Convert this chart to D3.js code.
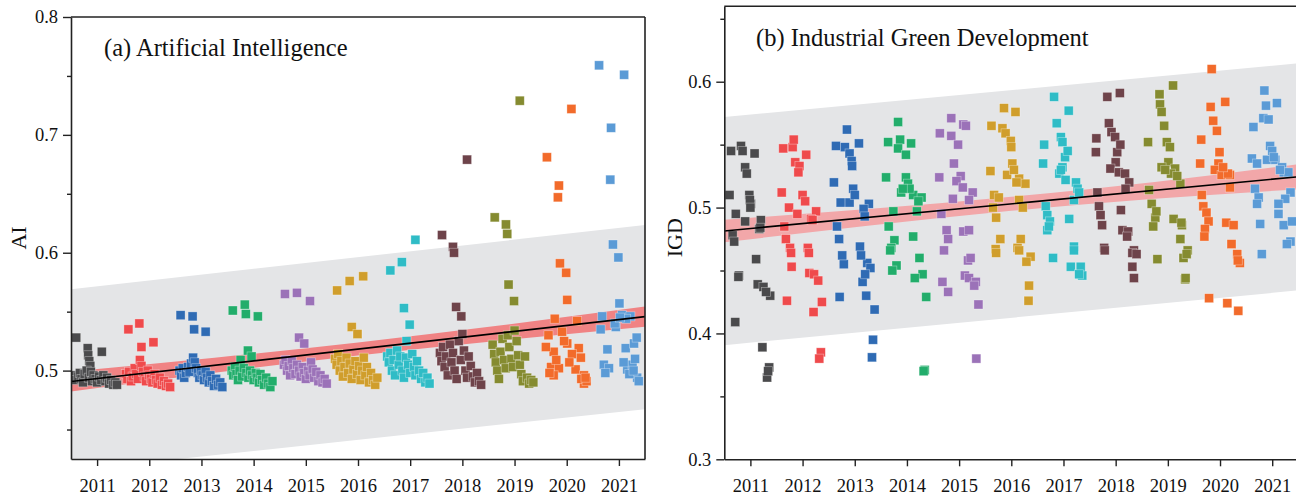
<!DOCTYPE html>
<html>
<head>
<meta charset="utf-8">
<script src="https://cdn.jsdelivr.net/npm/d3@7/dist/d3.min.js"></script>
<style>
  html, body { margin: 0; padding: 0; background: #fff; }
  svg { display: block; }
  text { font-family: "Liberation Serif", "Times New Roman", serif; fill: #111; }
</style>
</head>
<body>
<svg id="chart" width="1296" height="499"></svg>
<script>
// Years and per-year marker colours
const years = [2011, 2012, 2013, 2014, 2015, 2016, 2017, 2018, 2019, 2020, 2021];
const yearColors = ["#4a4a4c", "#ef4a4c", "#2f6bb4", "#22ad6b", "#9b72b8", "#d09e2c",
                    "#2fbcc6", "#6e434a", "#858b30", "#f26b2b", "#5b9bd6"];

// (a) AI index by province: [offset from year, value]
const ai2011 = [[-0.40,0.528],[-0.18,0.519],[-0.17,0.513],[-0.15,0.508],[-0.13,0.504],[0.09,0.516],
  [-0.43,0.496],[-0.40,0.492],[-0.36,0.495],[-0.33,0.498],[-0.30,0.493],[-0.27,0.490],[-0.24,0.497],[-0.20,0.500],
  [-0.16,0.494],[-0.12,0.499],[-0.10,0.491],[-0.07,0.496],[-0.03,0.493],[0.00,0.490],[0.04,0.495],[0.08,0.492],
  [0.12,0.496],[0.16,0.491],[0.19,0.494],[0.23,0.489],[0.27,0.492],[0.31,0.488],[0.35,0.490],[0.38,0.488]];
const ai2012 = [[-0.40,0.535],[-0.19,0.540],[-0.15,0.520],[0.08,0.524],
  [-0.45,0.497],[-0.42,0.493],[-0.39,0.499],[-0.35,0.491],[-0.32,0.495],[-0.28,0.502],[-0.25,0.497],[-0.22,0.493],
  [-0.18,0.509],[-0.15,0.504],[-0.12,0.499],[-0.09,0.495],[-0.06,0.491],[-0.03,0.500],[0.00,0.496],[0.03,0.493],
  [0.06,0.490],[0.10,0.497],[0.13,0.492],[0.16,0.489],[0.20,0.494],[0.24,0.488],[0.28,0.491],[0.32,0.487],[0.36,0.489],[0.40,0.486]];
const ai2013 = [[-0.40,0.547],[-0.17,0.546],[-0.14,0.535],[0.08,0.533],
  [-0.42,0.500],[-0.39,0.496],[-0.36,0.502],[-0.33,0.494],[-0.30,0.498],[-0.26,0.503],[-0.23,0.499],[-0.20,0.506],
  [-0.16,0.511],[-0.13,0.507],[-0.10,0.502],[-0.07,0.498],[-0.04,0.494],[-0.01,0.500],[0.02,0.496],[0.05,0.492],
  [0.08,0.499],[0.11,0.494],[0.14,0.490],[0.17,0.496],[0.20,0.491],[0.24,0.487],[0.28,0.493],[0.32,0.488],[0.36,0.490],[0.40,0.486]];
const ai2014 = [[-0.40,0.551],[-0.17,0.556],[-0.15,0.548],[0.08,0.546],[-0.11,0.517],[-0.04,0.512],[-0.25,0.509],
  [-0.42,0.500],[-0.39,0.496],[-0.36,0.503],[-0.33,0.497],[-0.30,0.492],[-0.27,0.500],[-0.22,0.495],[-0.19,0.502],
  [-0.14,0.498],[-0.10,0.494],[-0.07,0.500],[-0.03,0.496],[0.00,0.492],[0.04,0.498],[0.07,0.494],[0.10,0.490],
  [0.13,0.497],[0.16,0.492],[0.20,0.488],[0.24,0.494],[0.28,0.489],[0.32,0.486],[0.36,0.491]];
const ai2015 = [[-0.40,0.565],[-0.17,0.566],[0.08,0.559],[-0.13,0.528],[-0.03,0.523],
  [-0.42,0.505],[-0.39,0.509],[-0.36,0.500],[-0.33,0.504],[-0.30,0.496],[-0.27,0.508],[-0.24,0.502],[-0.20,0.497],
  [-0.17,0.505],[-0.13,0.500],[-0.10,0.495],[-0.06,0.503],[-0.03,0.498],[0.00,0.493],[0.04,0.500],[0.07,0.496],
  [0.10,0.507],[0.13,0.501],[0.16,0.494],[0.20,0.499],[0.24,0.491],[0.28,0.496],[0.32,0.490],[0.36,0.493],[0.40,0.489]];
const ai2016 = [[-0.40,0.568],[-0.16,0.576],[0.10,0.580],[-0.12,0.537],[-0.01,0.531],
  [-0.44,0.510],[-0.41,0.505],[-0.38,0.514],[-0.35,0.500],[-0.32,0.508],[-0.29,0.495],[-0.26,0.503],[-0.22,0.511],
  [-0.19,0.498],[-0.16,0.506],[-0.12,0.493],[-0.09,0.501],[-0.05,0.508],[-0.02,0.497],[0.02,0.504],[0.05,0.492],
  [0.08,0.500],[0.11,0.511],[0.14,0.496],[0.17,0.503],[0.21,0.490],[0.25,0.498],[0.29,0.492],[0.33,0.488],[0.37,0.494]];
const ai2017 = [[-0.38,0.585],[-0.16,0.592],[0.10,0.611],[-0.12,0.553],[-0.01,0.539],[-0.07,0.525],
  [-0.44,0.512],[-0.41,0.507],[-0.38,0.515],[-0.35,0.500],[-0.32,0.509],[-0.29,0.496],[-0.25,0.517],[-0.22,0.505],
  [-0.19,0.512],[-0.15,0.500],[-0.12,0.494],[-0.08,0.511],[-0.04,0.505],[0.00,0.498],[0.04,0.514],[0.07,0.503],
  [0.10,0.496],[0.13,0.508],[0.17,0.500],[0.21,0.493],[0.25,0.498],[0.29,0.490],[0.33,0.494],[0.37,0.489]];
const ai2018 = [[-0.39,0.615],[-0.18,0.605],[-0.16,0.600],[0.09,0.679],[-0.12,0.554],[-0.02,0.546],
  [-0.43,0.515],[-0.40,0.508],[-0.37,0.520],[-0.34,0.503],[-0.31,0.512],[-0.28,0.496],[-0.24,0.522],[-0.21,0.507],
  [-0.18,0.515],[-0.15,0.500],[-0.11,0.493],[-0.07,0.525],[-0.03,0.509],[0.00,0.531],[0.03,0.517],[0.06,0.500],
  [0.09,0.494],[0.12,0.512],[0.16,0.504],[0.20,0.495],[0.24,0.490],[0.28,0.498],[0.32,0.491],[0.36,0.488]];
const ai2019 = [[-0.38,0.630],[-0.165,0.624],[-0.14,0.616],[0.10,0.729],[-0.115,0.573],[-0.01,0.559],
  [-0.42,0.522],[-0.39,0.514],[-0.36,0.507],[-0.33,0.500],[-0.30,0.493],[-0.27,0.516],[-0.23,0.527],[-0.20,0.509],
  [-0.17,0.502],[-0.13,0.530],[-0.10,0.520],[-0.06,0.510],[-0.03,0.503],[0.00,0.534],[0.04,0.525],[0.07,0.513],
  [0.10,0.505],[0.13,0.497],[0.16,0.491],[0.20,0.512],[0.24,0.494],[0.28,0.489],[0.32,0.492],[0.36,0.490]];
const ai2020 = [[-0.38,0.681],[-0.17,0.647],[-0.15,0.657],[0.09,0.722],[-0.13,0.591],[-0.01,0.583],[0.01,0.560],
  [-0.23,0.544],[0.20,0.542],[-0.35,0.530],[-0.09,0.533],[0.01,0.523],[0.23,0.519],[-0.25,0.516],[-0.30,0.503],
  [-0.15,0.502],[0.17,0.501],[0.33,0.496],[0.33,0.489],[-0.25,0.496],[-0.40,0.520],[-0.05,0.525],[0.10,0.514],
  [0.27,0.511],[-0.20,0.509],[0.05,0.507],[0.28,0.493],[0.38,0.491],[-0.33,0.498],[0.36,0.494]];
const ai2021 = [[-0.38,0.759],[0.10,0.751],[-0.15,0.706],[-0.165,0.662],[-0.115,0.607],[-0.01,0.596],[0.01,0.557],
  [-0.32,0.546],[-0.35,0.535],[-0.06,0.537],[0.06,0.547],[0.22,0.546],[0.14,0.544],[-0.22,0.518],[0.13,0.519],
  [0.29,0.523],[0.34,0.528],[-0.29,0.505],[-0.19,0.502],[0.16,0.501],[0.26,0.505],[0.35,0.494],[0.38,0.491],
  [-0.26,0.498],[0.09,0.507],[0.20,0.497],[0.31,0.510],[-0.08,0.540],[0.02,0.545],[0.28,0.500]];
const aiByYear = [ai2011, ai2012, ai2013, ai2014, ai2015, ai2016, ai2017, ai2018, ai2019, ai2020, ai2021];

// (b) IGD index by province: [offset from year, value]
const igd2011 = [[-0.37,0.545],[-0.18,0.549],[-0.15,0.545],[0.08,0.543],[-0.10,0.532],[-0.07,0.527],[-0.40,0.510],
  [-0.02,0.510],[0.01,0.503],[-0.01,0.506],[-0.28,0.495],[-0.10,0.489],[0.20,0.490],[0.17,0.483],[-0.34,0.478],
  [-0.31,0.473],[0.11,0.459],[-0.22,0.446],[-0.23,0.445],[0.14,0.439],[0.25,0.437],[0.38,0.430],[0.30,0.433],
  [-0.29,0.409],[0.23,0.389],[0.36,0.373],[0.32,0.365],[0.34,0.370],[0.19,0.484],[0.00,0.500]];
const igd2012 = [[-0.37,0.547],[-0.19,0.548],[-0.17,0.554],[0.07,0.542],[-0.14,0.536],[-0.06,0.533],[-0.08,0.528],
  [-0.40,0.512],[0.00,0.510],[0.05,0.505],[-0.26,0.500],[-0.10,0.495],[0.26,0.497],[0.16,0.491],[-0.35,0.485],
  [-0.32,0.475],[-0.24,0.468],[0.10,0.468],[-0.22,0.464],[0.12,0.464],[-0.21,0.453],[0.13,0.448],[0.22,0.447],
  [0.30,0.442],[-0.30,0.426],[0.37,0.425],[0.21,0.417],[0.35,0.385],[0.32,0.380],[0.19,0.490]];
const igd2013 = [[-0.15,0.562],[-0.36,0.549],[-0.19,0.548],[0.08,0.551],[-0.10,0.543],[-0.06,0.537],[-0.40,0.520],
  [-0.03,0.515],[-0.27,0.504],[-0.10,0.504],[0.27,0.503],[0.17,0.499],[0.19,0.493],[-0.34,0.485],[-0.30,0.475],
  [0.10,0.469],[-0.21,0.455],[0.24,0.456],[0.30,0.452],[0.15,0.441],[-0.29,0.429],[0.22,0.430],[0.38,0.419],
  [0.35,0.395],[0.33,0.381],[0.00,0.510],[-0.05,0.533],[0.12,0.462],[-0.24,0.462],[0.20,0.447]];
const igd2014 = [[-0.17,0.568],[-0.36,0.552],[-0.13,0.554],[0.08,0.551],[-0.17,0.547],[-0.02,0.542],[-0.40,0.524],
  [-0.02,0.524],[0.02,0.519],[-0.11,0.512],[0.12,0.510],[0.28,0.508],[-0.26,0.497],[0.19,0.497],[-0.35,0.485],
  [0.12,0.477],[-0.24,0.474],[-0.30,0.468],[-0.32,0.466],[-0.20,0.454],[-0.28,0.450],[0.24,0.460],[0.30,0.447],
  [0.15,0.444],[0.37,0.429],[0.34,0.371],[0.32,0.370],[0.05,0.515],[-0.08,0.515],[0.22,0.505]];
const igd2015 = [[-0.15,0.571],[0.08,0.566],[-0.37,0.559],[-0.15,0.557],[-0.02,0.550],[-0.38,0.524],[0.03,0.525],
  [-0.05,0.521],[0.07,0.516],[-0.12,0.507],[-0.34,0.495],[-0.24,0.482],[0.08,0.481],[-0.21,0.475],[0.13,0.565],
  [0.26,0.512],[0.19,0.506],[0.19,0.482],[-0.29,0.466],[0.17,0.458],[0.11,0.446],[-0.32,0.441],[-0.21,0.433],
  [0.22,0.460],[0.19,0.444],[0.32,0.441],[0.29,0.438],[0.37,0.423],[0.33,0.380],[-0.10,0.535]];
const igd2016 = [[-0.14,0.579],[0.08,0.576],[-0.38,0.565],[-0.17,0.563],[-0.11,0.559],[-0.01,0.553],[-0.40,0.529],
  [0.02,0.535],[-0.08,0.526],[0.15,0.523],[0.27,0.519],[-0.33,0.510],[-0.24,0.508],[0.15,0.506],[-0.29,0.492],
  [-0.21,0.475],[0.18,0.475],[-0.30,0.467],[0.12,0.468],[-0.29,0.464],[0.15,0.466],[0.37,0.461],[0.29,0.457],
  [0.34,0.438],[0.33,0.426],[0.05,0.530],[0.10,0.520],[-0.35,0.500],[0.22,0.500],[0.00,0.548]];
const igd2017 = [[-0.18,0.588],[0.10,0.577],[-0.13,0.567],[-0.05,0.556],[-0.02,0.552],[-0.37,0.550],[-0.39,0.535],
  [0.03,0.540],[-0.02,0.532],[-0.08,0.527],[0.04,0.522],[0.24,0.520],[0.27,0.515],[0.20,0.506],[-0.34,0.501],
  [-0.31,0.494],[0.11,0.491],[-0.26,0.489],[-0.31,0.482],[0.20,0.469],[0.20,0.466],[-0.20,0.460],[0.14,0.453],
  [0.33,0.453],[0.36,0.446],[0.30,0.447],[-0.28,0.485],[0.30,0.512],[0.08,0.545],[-0.05,0.530]];
const igd2018 = [[-0.16,0.588],[0.08,0.591],[-0.13,0.567],[-0.08,0.560],[-0.01,0.556],[-0.37,0.555],[-0.38,0.544],
  [0.03,0.544],[0.00,0.536],[-0.10,0.531],[0.06,0.528],[0.18,0.527],[0.26,0.520],[0.19,0.515],[-0.35,0.512],
  [-0.32,0.501],[-0.29,0.494],[0.10,0.498],[-0.26,0.486],[0.13,0.482],[0.24,0.481],[0.22,0.477],[-0.22,0.468],
  [0.35,0.466],[-0.21,0.466],[0.32,0.464],[0.40,0.463],[0.32,0.453],[0.35,0.444],[0.09,0.550]];
const igd2019 = [[0.10,0.597],[-0.16,0.590],[-0.15,0.582],[-0.12,0.576],[-0.07,0.565],[-0.38,0.552],[-0.02,0.552],
  [0.04,0.548],[0.01,0.536],[-0.12,0.532],[0.14,0.531],[0.24,0.519],[-0.36,0.514],[-0.31,0.503],[-0.24,0.492],
  [0.11,0.491],[0.27,0.486],[-0.28,0.485],[0.24,0.475],[0.38,0.466],[0.30,0.460],[-0.20,0.459],[0.33,0.443],
  [0.34,0.444],[0.06,0.527],[-0.05,0.530],[0.18,0.525],[0.26,0.488],[-0.22,0.497],[0.36,0.463]];
const igd2020 = [[-0.16,0.610],[-0.18,0.580],[0.10,0.584],[-0.13,0.569],[-0.06,0.561],[-0.36,0.554],[-0.01,0.544],
  [-0.38,0.535],[-0.03,0.535],[-0.10,0.530],[0.03,0.526],[0.19,0.526],[0.19,0.516],[-0.35,0.510],[-0.32,0.501],
  [-0.26,0.496],[-0.22,0.489],[-0.29,0.483],[0.12,0.488],[0.26,0.486],[0.22,0.471],[0.33,0.463],[0.38,0.456],
  [-0.21,0.428],[0.14,0.424],[0.35,0.418],[0.15,0.527],[0.06,0.532],[0.34,0.458],[-0.30,0.477]];
const igd2021 = [[-0.15,0.593],[-0.12,0.581],[0.09,0.583],[-0.17,0.571],[-0.07,0.570],[-0.36,0.564],[-0.04,0.549],
  [-0.39,0.539],[-0.29,0.535],[-0.10,0.538],[0.06,0.538],[0.19,0.532],[0.22,0.528],[0.31,0.528],[-0.33,0.515],
  [-0.26,0.508],[-0.29,0.503],[0.35,0.512],[0.25,0.507],[0.12,0.503],[0.12,0.495],[-0.23,0.487],[0.22,0.486],
  [0.38,0.489],[0.35,0.473],[0.28,0.471],[-0.20,0.463],[0.00,0.545],[0.03,0.540],[0.15,0.530]];
const igdByYear = [igd2011, igd2012, igd2013, igd2014, igd2015, igd2016, igd2017, igd2018, igd2019, igd2020, igd2021];

// Fitted trend, confidence band and prediction band: [x, value] / [x, lower, upper]
const aiFit = [[2010.5, 0.4907], [2021.5, 0.5458]];
const aiConf = [[2010.5, 0.4822, 0.4992], [2013.25, 0.4981, 0.5109], [2016, 0.5128, 0.5238],
                [2018.75, 0.5256, 0.5384], [2021.5, 0.5373, 0.5543]];
const aiPred = [[2010.5, 0.4153, 0.5690], [2021.5, 0.4673, 0.6235]];

const igdFit = [[2010.5, 0.4814], [2021.5, 0.5245]];
const igdConf = [[2010.5, 0.4724, 0.4904], [2013.25, 0.4856, 0.4988], [2016, 0.4974, 0.5086],
                 [2018.75, 0.5071, 0.5203], [2021.5, 0.5145, 0.5345]];
const igdPred = [[2010.5, 0.3907, 0.5719], [2021.5, 0.4342, 0.6146]];

// Axis ticks
const aiMajorTicks = [0.5, 0.6, 0.7, 0.8];
const aiMinorTicks = [0.45, 0.55, 0.65, 0.75];
const igdMajorTicks = [0.3, 0.4, 0.5, 0.6];
const igdMinorTicks = [0.35, 0.45, 0.55, 0.65];

const svg = d3.select("#chart");
const FONT = '"Liberation Serif", "Times New Roman", serif';

function drawPanel(cfg) {
  const x = d3.scaleLinear().domain([2010.5, 2021.5]).range([cfg.left, cfg.right]);
  const y = d3.scaleLinear().domain(cfg.yDomain).range([cfg.bottom, cfg.top]);
  const g = svg.append("g");

  const clipId = "clip-" + cfg.id;
  svg.append("defs").append("clipPath").attr("id", clipId)
    .append("rect").attr("x", cfg.left).attr("y", cfg.top)
    .attr("width", cfg.right - cfg.left).attr("height", cfg.bottom - cfg.top);

  const plot = g.append("g").attr("clip-path", `url(#${clipId})`);

  // prediction band
  plot.append("path").datum(cfg.pred)
    .attr("fill", "#e4e5e7")
    .attr("d", d3.area().x(d => x(d[0])).y0(d => y(d[1])).y1(d => y(d[2])));

  // confidence band
  plot.append("path").datum(cfg.conf)
    .attr("fill", cfg.confColor)
    .attr("d", d3.area().curve(d3.curveNatural).x(d => x(d[0])).y0(d => y(d[1])).y1(d => y(d[2])));

  // province points, one colour per year
  const s = 9;
  cfg.byYear.forEach((pts, i) => {
    plot.append("g").selectAll("rect").data(pts).join("rect")
      .attr("x", d => x(years[i] + d[0]) - s / 2)
      .attr("y", d => y(d[1]) - s / 2)
      .attr("width", s).attr("height", s)
      .attr("fill", yearColors[i])
      .attr("stroke", "#ffffff").attr("stroke-opacity", 0.45).attr("stroke-width", 0.7);
  });

  // fitted line
  plot.append("path").datum(cfg.fit)
    .attr("fill", "none").attr("stroke", "#000").attr("stroke-width", 1.6)
    .attr("d", d3.line().x(d => x(d[0])).y(d => y(d[1])));

  // frame lines
  g.append("line").attr("x1", cfg.left).attr("x2", cfg.frameRight)
    .attr("y1", cfg.top).attr("y2", cfg.top).attr("stroke", "#222").attr("stroke-width", 1.6);
  if (cfg.drawRightEdge) {
    g.append("line").attr("x1", cfg.right).attr("x2", cfg.right)
      .attr("y1", cfg.top).attr("y2", cfg.bottom).attr("stroke", "#222").attr("stroke-width", 1.6);
  }

  // x axis
  const xAxis = g.append("g").attr("transform", `translate(0,${cfg.bottom})`)
    .call(d3.axisBottom(x).tickValues(years).tickFormat(d3.format("d")).tickSize(7).tickPadding(13).tickSizeOuter(0));
  // y axis (major)
  const yAxis = g.append("g").attr("transform", `translate(${cfg.left},0)`)
    .call(d3.axisLeft(y).tickValues(cfg.major).tickFormat(d3.format(".1f")).tickSize(8).tickPadding(5).tickSizeOuter(0));
  // y axis (minor)
  const yMinor = g.append("g").attr("transform", `translate(${cfg.left},0)`)
    .call(d3.axisLeft(y).tickValues(cfg.minor).tickFormat("").tickSize(4).tickSizeOuter(0));
  yMinor.select(".domain").remove();

  [xAxis, yAxis, yMinor].forEach(a => {
    a.attr("font-family", FONT).attr("font-size", 18.5);
    a.selectAll(".domain").attr("stroke", "#222").attr("stroke-width", 1.6);
    a.selectAll(".tick line").attr("stroke", "#222").attr("stroke-width", 1.4);
    a.selectAll(".tick text").style("font-family", FONT).style("font-size", "18.5px").attr("fill", "#111");
  });

  // axis title
  g.append("text")
    .attr("transform", `translate(${cfg.yLabelX},${(cfg.top + cfg.bottom) / 2 + cfg.yLabelShift}) rotate(-90)`)
    .attr("text-anchor", "middle").style("font-size", "22px")
    .text(cfg.yLabel);

  // panel title
  g.append("text").attr("x", cfg.titleX).attr("y", cfg.titleY)
    .style("font-size", "24.5px").text(cfg.title);
}

drawPanel({
  id: "ai", left: 71, right: 645, top: 17, bottom: 459, frameRight: 645, drawRightEdge: true,
  yDomain: [0.425, 0.8], byYear: aiByYear, fit: aiFit, conf: aiConf, pred: aiPred,
  confColor: "#f08384", major: aiMajorTicks, minor: aiMinorTicks,
  yLabel: "AI", yLabelX: 26, yLabelShift: 0, title: "(a) Artificial Intelligence", titleX: 104, titleY: 56
});

drawPanel({
  id: "igd", left: 724.3, right: 1298.3, top: 6.2, bottom: 459.3, frameRight: 1298, drawRightEdge: false,
  yDomain: [0.3, 0.66], byYear: igdByYear, fit: igdFit, conf: igdConf, pred: igdPred,
  confColor: "#f2a7a9", major: igdMajorTicks, minor: igdMinorTicks,
  yLabel: "IGD", yLabelX: 682, yLabelShift: 5, title: "(b) Industrial Green Development", titleX: 756, titleY: 46
});
</script>
</body>
</html>
